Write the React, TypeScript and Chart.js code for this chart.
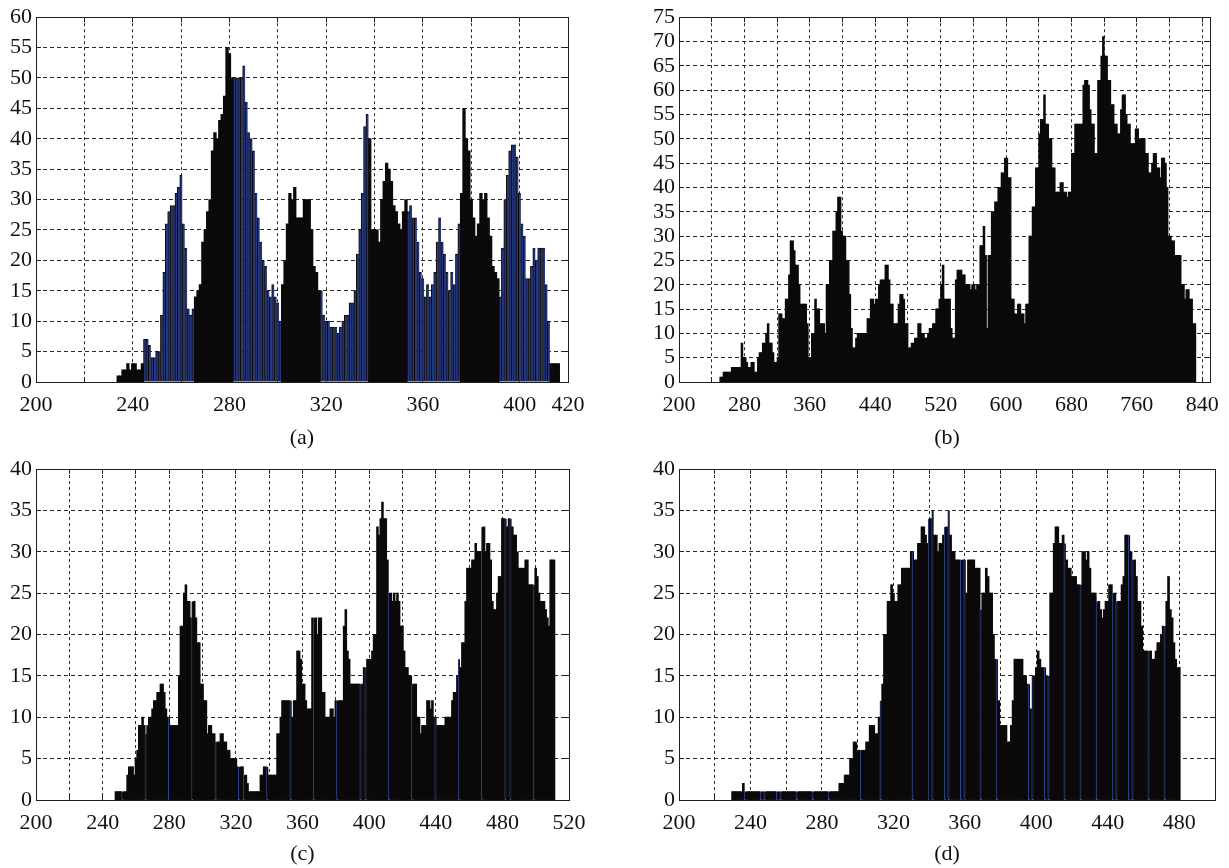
import React, { useEffect, useRef } from "react";
import { Chart, registerables } from "chart.js";

Chart.register(...registerables);

const FONT_FAMILY = '"Liberation Serif", "DejaVu Serif", serif';
const INK = "#0b0909";
const NAVY = "#24367c";
const EDGE_BLUE = "#3553a8";
const GRID = "#2a2a2a";

// ---------- Panel (a): unit bins, centres from 234 ----------
const aFirstCenter = 234;
const aBinWidth = 1;
const aCounts = [
  1, 1, 2, 2, 3, 2, 3, 3, 2, 2,
  3, 7, 7, 6, 4, 4, 5, 5, 11, 18,
  26, 28, 29, 29, 31, 32, 34, 26, 22, 12,
  11, 12, 14, 15, 16, 23, 25, 28, 30, 38,
  41, 40, 43, 44, 47, 55, 54, 50, 50, 50,
  50, 50, 52, 46, 41, 40, 38, 31, 27, 23,
  20, 19, 15, 14, 16, 14, 13, 10, 16, 20,
  26, 31, 30, 32, 27, 27, 27, 30, 30, 30,
  25, 19, 18, 15, 15, 11, 10, 10, 9, 9,
  9, 8, 9, 10, 11, 11, 13, 13, 15, 21,
  25, 31, 42, 44, 40, 25, 25, 25, 23, 30,
  33, 36, 35, 33, 29, 28, 26, 25, 28, 30,
  28, 29, 27, 27, 23, 18, 17, 14, 16, 14,
  16, 18, 23, 27, 23, 21, 18, 15, 18, 16,
  21, 26, 31, 45, 40, 38, 30, 27, 24, 26,
  31, 30, 31, 27, 24, 19, 18, 17, 14, 22,
  30, 34, 38, 39, 39, 37, 31, 26, 24, 17,
  17, 19, 22, 20, 22, 22, 22, 16, 10, 3,
  3, 3, 3,
];
const aNavyRanges = [
  [245, 265],
  [282, 301],
  [318, 337],
  [354, 375],
  [392, 412],
];
const aXTicks = [200, 220, 240, 260, 280, 300, 320, 340, 360, 380, 400, 420];
const aXLabels = [200, 240, 280, 320, 360, 400, 420];
const aYTicks = [0, 5, 10, 15, 20, 25, 30, 35, 40, 45, 50, 55, 60];

// ---------- Panel (b): 2-unit bins, centres from 251 ----------
const bFirstCenter = 251;
const bBinWidth = 2;
const bCounts = [
  1, 1, 2, 2, 2, 2, 2, 3, 3, 3,
  3, 3, 3, 8, 5, 5, 4, 3, 3, 4,
  4, 2, 2, 5, 6, 6, 8, 8, 10, 12,
  8, 8, 6, 4, 4, 5, 14, 14, 13, 13,
  17, 17, 22, 29, 29, 27, 24, 24, 20, 16,
  16, 16, 16, 12, 5, 5, 10, 10, 17, 15,
  15, 12, 12, 12, 10, 20, 20, 25, 25, 31,
  31, 35, 38, 38, 31, 30, 30, 25, 25, 18,
  11, 7, 7, 9, 10, 10, 10, 10, 10, 10,
  13, 13, 17, 17, 16, 17, 17, 20, 21, 21,
  21, 24, 24, 21, 16, 16, 12, 12, 12, 16,
  18, 18, 17, 12, 12, 7, 7, 8, 8, 9,
  9, 12, 12, 10, 10, 9, 9, 10, 11, 11,
  12, 12, 15, 15, 17, 20, 24, 17, 17, 17,
  17, 11, 9, 9, 21, 23, 23, 23, 22, 22,
  20, 20, 20, 19, 20, 20, 19, 20, 20, 28,
  28, 32, 26, 11, 26, 26, 35, 35, 37, 37,
  40, 40, 43, 43, 46, 46, 42, 42, 17, 17,
  14, 14, 16, 16, 14, 14, 12, 16, 16, 30,
  30, 36, 36, 44, 44, 51, 54, 54, 59, 53,
  53, 50, 50, 44, 44, 39, 39, 39, 41, 41,
  39, 39, 38, 39, 39, 47, 47, 53, 53, 53,
  53, 53, 61, 62, 62, 61, 56, 53, 53, 47,
  47, 62, 62, 67, 71, 67, 67, 62, 62, 57,
  57, 53, 53, 51, 51, 56, 59, 59, 55, 53,
  53, 49, 49, 49, 52, 52, 50, 50, 50, 50,
  47, 47, 43, 43, 45, 47, 47, 44, 44, 42,
  46, 46, 45, 40, 30, 30, 29, 29, 26, 26,
  26, 26, 20, 20, 17, 19, 19, 17, 17, 12,
  12,
];
const bXTicks = [200, 240, 280, 320, 360, 400, 440, 480, 520, 560, 600, 640, 680, 720, 760, 800, 840];
const bXLabels = [200, 280, 360, 440, 520, 600, 680, 760, 840];
const bYTicks = [0, 5, 10, 15, 20, 25, 30, 35, 40, 45, 50, 55, 60, 65, 70, 75];

// ---------- Panel (c): unit bins, centres from 248 ----------
const cFirstCenter = 248;
const cBinWidth = 1;
const cCounts = [
  1, 1, 1, 1, 1, 1, 1, 3, 4, 4,
  4, 3, 5, 6, 9, 9, 10, 9, 8, 9,
  10, 10, 11, 12, 12, 13, 13, 14, 14, 13,
  11, 10, 10, 9, 9, 9, 9, 9, 15, 21,
  21, 25, 26, 24, 24, 22, 24, 24, 22, 19,
  19, 14, 14, 12, 12, 8, 9, 9, 8, 8,
  7, 7, 7, 8, 8, 7, 7, 6, 6, 5,
  5, 5, 5, 4, 4, 4, 4, 3, 3, 2,
  1, 1, 1, 1, 1, 1, 1, 3, 3, 4,
  4, 4, 3, 3, 3, 3, 3, 8, 8, 10,
  12, 12, 12, 12, 12, 12, 10, 12, 12, 18,
  18, 17, 14, 14, 12, 11, 11, 11, 22, 22,
  22, 20, 22, 22, 13, 13, 10, 10, 10, 11,
  11, 10, 12, 12, 12, 12, 12, 21, 23, 18,
  17, 14, 14, 14, 14, 14, 14, 14, 14, 16,
  16, 17, 17, 17, 18, 20, 20, 33, 32, 34,
  36, 34, 34, 29, 25, 25, 24, 25, 24, 25,
  24, 21, 21, 18, 16, 16, 15, 15, 14, 14,
  14, 10, 10, 8, 9, 9, 9, 12, 12, 11,
  12, 10, 10, 9, 9, 9, 9, 9, 10, 10,
  10, 10, 12, 13, 13, 15, 17, 16, 19, 19,
  24, 28, 28, 28, 29, 29, 31, 30, 30, 30,
  33, 33, 30, 31, 31, 29, 24, 23, 23, 25,
  27, 27, 34, 34, 34, 33, 34, 34, 33, 32,
  32, 30, 28, 28, 28, 28, 29, 29, 26, 26,
  26, 26, 28, 27, 25, 24, 24, 24, 23, 22,
  21, 29, 29, 29,
];
const cBlueEdges = [252, 266, 280, 294, 308, 322, 325, 339, 353, 367, 381, 395, 398, 412, 426, 440, 454, 468, 482, 485, 499];
const cXTicks = [200, 220, 240, 260, 280, 300, 320, 340, 360, 380, 400, 420, 440, 460, 480, 500, 520];
const cXLabels = [200, 240, 280, 320, 360, 400, 440, 480, 520];
const cYTicks = [0, 5, 10, 15, 20, 25, 30, 35, 40];

// ---------- Panel (d): unit bins, centres from 230 ----------
const dFirstCenter = 230;
const dBinWidth = 1;
const dCounts = [
  1, 1, 1, 1, 1, 1, 2, 1, 1, 1,
  1, 1, 1, 1, 1, 1, 1, 1, 1, 1,
  1, 1, 1, 1, 1, 1, 1, 1, 1, 1,
  1, 1, 1, 1, 1, 1, 1, 1, 1, 1,
  1, 1, 1, 1, 1, 1, 1, 1, 1, 1,
  1, 1, 1, 1, 1, 1, 1, 1, 1, 1,
  2, 2, 2, 3, 3, 3, 5, 5, 7, 7,
  6, 6, 6, 6, 6, 7, 7, 9, 9, 9,
  8, 8, 10, 12, 14, 20, 20, 24, 24, 26,
  25, 24, 24, 26, 26, 28, 28, 28, 28, 28,
  30, 30, 29, 29, 31, 31, 33, 33, 32, 31,
  34, 34, 35, 32, 32, 30, 31, 31, 32, 33,
  33, 35, 32, 30, 30, 29, 29, 29, 29, 29,
  29, 25, 29, 29, 29, 29, 28, 28, 28, 23,
  25, 25, 28, 27, 25, 25, 20, 17, 17, 12,
  9, 9, 9, 9, 7, 7, 9, 12, 17, 17,
  17, 17, 17, 15, 15, 14, 14, 11, 15, 15,
  16, 18, 17, 16, 16, 16, 15, 15, 25, 25,
  31, 33, 33, 31, 31, 32, 31, 29, 28, 28,
  27, 27, 27, 26, 26, 26, 30, 30, 29, 30,
  28, 25, 25, 25, 24, 24, 23, 22, 23, 24,
  24, 26, 26, 25, 25, 24, 24, 24, 26, 27,
  32, 32, 32, 30, 29, 29, 27, 24, 24, 21,
  18, 18, 18, 18, 18, 17, 17, 18, 19, 19,
  20, 21, 21, 24, 27, 23, 22, 19, 17, 16,
  16,
];
const dBlueEdges = [237, 246, 248, 255, 257, 266, 275, 284, 302, 313, 331, 340, 342, 349, 351, 358, 360, 369, 378, 396, 398, 405, 407, 416, 425, 434, 443, 445, 452, 454, 463, 472];
const dXTicks = [200, 220, 240, 260, 280, 300, 320, 340, 360, 380, 400, 420, 440, 460, 480, 500];
const dXLabels = [200, 240, 280, 320, 360, 400, 440, 480];
const dYTicks = [0, 5, 10, 15, 20, 25, 30, 35, 40];

type BarStyle = { bg: string; edge: string; width: any };

type PanelSpec = {
  id: string;
  caption: string;
  counts: number[];
  firstCenter: number;
  binWidth: number;
  style: (center: number) => BarStyle;
  xMin: number;
  xMax: number;
  xTicks: number[];
  xLabels: number[];
  yMax: number;
  yTicks: number[];
  box: { left: number; top: number; width: number; height: number };
  plot: { left: number; top: number; right: number; bottom: number };
  captionY: number;
};

const plain: BarStyle = { bg: INK, edge: INK, width: 0 };

const styleA = (c: number): BarStyle =>
  aNavyRanges.some(([s, e]) => c >= s && c <= e)
    ? { bg: NAVY, edge: INK, width: { left: 1, top: 1, right: 0, bottom: 0 } }
    : plain;
const styleB = (_c: number): BarStyle => plain;
const styleC = (c: number): BarStyle =>
  cBlueEdges.includes(c) ? { bg: INK, edge: EDGE_BLUE, width: { left: 1, top: 0, right: 0, bottom: 0 } } : plain;
const styleD = (c: number): BarStyle =>
  dBlueEdges.includes(c) ? { bg: INK, edge: EDGE_BLUE, width: { left: 1, top: 0, right: 0, bottom: 0 } } : plain;

const panels: PanelSpec[] = [
  {
    id: "a", caption: "(a)", counts: aCounts, firstCenter: aFirstCenter, binWidth: aBinWidth, style: styleA,
    xMin: 200, xMax: 420, xTicks: aXTicks, xLabels: aXLabels, yMax: 60, yTicks: aYTicks,
    box: { left: 0, top: 0, width: 600, height: 425 },
    plot: { left: 36, top: 15, right: 568, bottom: 382 },
    captionY: 437,
  },
  {
    id: "b", caption: "(b)", counts: bCounts, firstCenter: bFirstCenter, binWidth: bBinWidth, style: styleB,
    xMin: 200, xMax: 850, xTicks: bXTicks, xLabels: bXLabels, yMax: 75, yTicks: bYTicks,
    box: { left: 640, top: 0, width: 589, height: 425 },
    plot: { left: 679, top: 16, right: 1215, bottom: 382 },
    captionY: 437,
  },
  {
    id: "c", caption: "(c)", counts: cCounts, firstCenter: cFirstCenter, binWidth: cBinWidth, style: styleC,
    xMin: 200, xMax: 520, xTicks: cXTicks, xLabels: cXLabels, yMax: 40, yTicks: cYTicks,
    box: { left: 0, top: 440, width: 600, height: 405 },
    plot: { left: 36, top: 469, right: 569, bottom: 800 },
    captionY: 853,
  },
  {
    id: "d", caption: "(d)", counts: dCounts, firstCenter: dFirstCenter, binWidth: dBinWidth, style: styleD,
    xMin: 200, xMax: 500, xTicks: dXTicks, xLabels: dXLabels, yMax: 40, yTicks: dYTicks,
    box: { left: 640, top: 440, width: 589, height: 405 },
    plot: { left: 679, top: 469, right: 1215, bottom: 800 },
    captionY: 853,
  },
];

const align = (p: number) => Math.round(p - 0.5) + 0.5;

const framePlugin = {
  id: "matlabFrame",
  beforeDatasetsDraw(chart: any) {
    const { ctx, chartArea, scales } = chart;
    const { left, right, top, bottom } = chartArea;
    const L = 5;
    ctx.save();
    ctx.strokeStyle = "#222";
    ctx.lineWidth = 1;
    ctx.setLineDash([]);
    ctx.beginPath();
    scales.x.ticks.forEach((t: any) => {
      const px = align(scales.x.getPixelForValue(t.value));
      ctx.moveTo(px, bottom);
      ctx.lineTo(px, bottom - L);
      ctx.moveTo(px, top);
      ctx.lineTo(px, top + L);
    });
    scales.y.ticks.forEach((t: any) => {
      const py = align(scales.y.getPixelForValue(t.value));
      ctx.moveTo(left, py);
      ctx.lineTo(left + L, py);
      ctx.moveTo(right, py);
      ctx.lineTo(right - L, py);
    });
    ctx.stroke();
    ctx.restore();
  },
  afterDatasetsDraw(chart: any) {
    const { ctx, chartArea } = chart;
    const { left, right, top, bottom } = chartArea;
    ctx.save();
    ctx.strokeStyle = "#1e1e1e";
    ctx.lineWidth = 1;
    ctx.setLineDash([]);
    const l = align(left);
    const t = align(top);
    const r = align(right);
    const b = align(bottom);
    ctx.strokeRect(l, t, r - l, b - t);
    ctx.restore();
  },
};

function HistPanel({ spec }: { spec: PanelSpec }) {
  const ref = useRef<HTMLCanvasElement>(null);

  useEffect(() => {
    const canvas = ref.current;
    if (!canvas) return;
    const centers = spec.counts.map((_, i) => spec.firstCenter + i * spec.binWidth);
    const points = spec.counts.map((v, i) => ({ x: centers[i], y: v }));
    const styles = centers.map((c) => spec.style(c));
    const { box, plot } = spec;
    const yAxisWidth = plot.left - box.left;
    const padTop = plot.top - box.top;
    const padRight = box.left + box.width - plot.right;
    const xAxisHeight = box.top + box.height - plot.bottom;
    const tickFont = { family: FONT_FAMILY, size: 22 };

    const chart = new Chart(canvas, {
      type: "bar",
      data: {
        datasets: [
          {
            data: points,
            backgroundColor: styles.map((s) => s.bg),
            borderColor: styles.map((s) => s.edge),
            borderWidth: styles.map((s) => s.width),
            borderSkipped: "start",
            barPercentage: 1,
            categoryPercentage: 1,
            inflateAmount: 0.45,
          } as any,
        ],
      },
      options: {
        responsive: false,
        animation: false,
        devicePixelRatio: 1,
        events: [],
        layout: { padding: { left: 0, top: padTop, right: padRight, bottom: 0 } },
        plugins: {
          legend: { display: false },
          tooltip: { enabled: false },
          title: { display: false },
        },
        scales: {
          x: {
            type: "linear",
            min: spec.xMin,
            max: spec.xMax,
            offset: false,
            grid: { offset: false, color: GRID, lineWidth: 1, drawTicks: false },
            border: { display: false, dash: [3, 3] },
            ticks: {
              autoSkip: false,
              maxRotation: 0,
              minRotation: 0,
              padding: 10,
              color: "#111",
              font: tickFont,
              callback: (v: any) => (spec.xLabels.includes(Number(v)) ? String(v) : ""),
            },
            afterBuildTicks: (scale: any) => {
              scale.ticks = spec.xTicks.map((v) => ({ value: v }));
            },
            afterFit: (scale: any) => {
              scale.height = xAxisHeight;
            },
          },
          y: {
            type: "linear",
            min: 0,
            max: spec.yMax,
            grid: { color: GRID, lineWidth: 1, drawTicks: false },
            border: { display: false, dash: [4, 3] },
            ticks: {
              autoSkip: false,
              padding: 4,
              color: "#111",
              font: tickFont,
              callback: (v: any) => String(v),
            },
            afterBuildTicks: (scale: any) => {
              scale.ticks = spec.yTicks.map((v) => ({ value: v }));
            },
            afterFit: (scale: any) => {
              scale.width = yAxisWidth;
            },
          },
        },
      } as any,
      plugins: [framePlugin],
    });
    return () => chart.destroy();
  }, [spec]);

  return (
    <canvas
      ref={ref}
      width={spec.box.width}
      height={spec.box.height}
      style={{
        position: "absolute",
        left: spec.box.left,
        top: spec.box.top,
        width: spec.box.width,
        height: spec.box.height,
        display: "block",
      }}
    />
  );
}

export default function App() {
  return (
    <div
      style={{
        position: "fixed",
        left: 0,
        top: 0,
        width: 1229,
        height: 868,
        background: "#ffffff",
        overflow: "hidden",
      }}
    >
      {panels.map((p) => (
        <HistPanel key={p.id} spec={p} />
      ))}
      {panels.map((p) => (
        <div
          key={"cap-" + p.id}
          style={{
            position: "absolute",
            left: (p.plot.left + p.plot.right) / 2 - 40,
            top: p.captionY - 13,
            width: 80,
            height: 26,
            lineHeight: "26px",
            textAlign: "center",
            fontFamily: FONT_FAMILY,
            fontSize: 22,
            color: "#111",
          }}
        >
          {p.caption}
        </div>
      ))}
    </div>
  );
}
